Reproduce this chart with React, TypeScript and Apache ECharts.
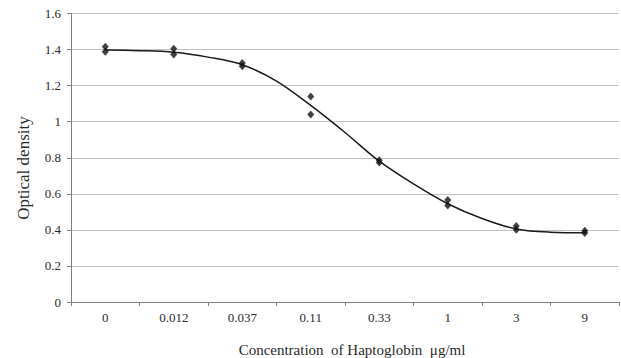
import React, { useEffect, useRef } from "react";
import * as echarts from "echarts";

const categories = ["0", "0.012", "0.037", "0.11", "0.33", "1", "3", "9"];
// replicate readings (two per concentration)
const replicateA = [1.415, 1.405, 1.325, 1.14, 0.786, 0.565, 0.421, 0.395];
const replicateB = [1.388, 1.372, 1.308, 1.04, 0.773, 0.535, 0.401, 0.382];
// fitted curve (x in category-index units)
const curveX = [0, 0.5, 1, 1.5, 2, 2.5, 3, 3.5, 4, 4.5, 5, 5.5, 6, 6.5, 7];
const curveY = [1.397, 1.394, 1.385, 1.358, 1.316, 1.225, 1.09, 0.94, 0.781, 0.655, 0.545, 0.463, 0.405, 0.387, 0.384];
const yTicks = [0, 0.2, 0.4, 0.6, 0.8, 1, 1.2, 1.4, 1.6];

const FONT = "Liberation Serif";

export default function App() {
  const ref = useRef<HTMLDivElement>(null);
  useEffect(() => {
    if (!ref.current) return;
    const chart = echarts.init(ref.current, null, { renderer: "svg" });
    const points: number[][] = [];
    categories.forEach((_, i) => {
      points.push([i, replicateA[i]]);
      points.push([i, replicateB[i]]);
    });
    chart.setOption({
      animation: false,
      backgroundColor: "#ffffff",
      grid: { left: 71, right: 2, top: 13.5, bottom: 56, containLabel: false },
      xAxis: [
        {
          type: "category",
          data: categories,
          boundaryGap: true,
          axisLine: { lineStyle: { color: "#7f7f7f", width: 1 } },
          axisTick: { show: true, length: 4, lineStyle: { color: "#7f7f7f" } },
          axisLabel: { color: "#2a2a2a", fontFamily: FONT, fontSize: 13, margin: 9 },
          splitLine: { show: false },
        },
        {
          type: "value",
          min: -0.5,
          max: 7.5,
          show: false,
        },
      ],
      yAxis: {
        type: "value",
        min: yTicks[0],
        max: yTicks[yTicks.length - 1],
        interval: 0.2,
        axisLine: { show: true, onZero: false, lineStyle: { color: "#7f7f7f", width: 1 } },
        axisTick: { show: true, length: 4, inside: false, lineStyle: { color: "#7f7f7f" } },
        axisLabel: {
          color: "#2a2a2a",
          fontFamily: FONT,
          fontSize: 13,
          margin: 10,
          formatter: (v: number) => String(Math.round(v * 10) / 10),
        },
        splitLine: { show: true, lineStyle: { color: "#c0c0c0", width: 1 } },
      },
      series: [
        {
          type: "line",
          xAxisIndex: 1,
          data: curveX.map((x, i) => [x, curveY[i]]),
          smooth: 0.35,
          showSymbol: false,
          symbol: "none",
          lineStyle: { color: "#1a1a1a", width: 1.5 },
          z: 2,
        },
        {
          type: "scatter",
          xAxisIndex: 1,
          data: points,
          symbol: "diamond",
          symbolSize: [7, 8],
          itemStyle: { color: "#111111" },
          z: 3,
        },
      ],
      graphic: [
        {
          type: "text",
          x: 352,
          y: 350,
          style: {
            text: "Concentration  of Haptoglobin  μg/ml",
            font: `15px "${FONT}"`,
            fill: "#2a2a2a",
            textAlign: "center",
            textVerticalAlign: "middle",
          },
        },
        {
          type: "text",
          x: 23,
          y: 168,
          rotation: Math.PI / 2,
          style: {
            text: "Optical density",
            font: `17px "${FONT}"`,
            fill: "#2a2a2a",
            textAlign: "center",
            textVerticalAlign: "middle",
          },
        },
      ],
    });
    return () => chart.dispose();
  }, []);
  return <div ref={ref} style={{ width: 621, height: 358, position: "absolute", left: 0, top: 0 }} />;
}
